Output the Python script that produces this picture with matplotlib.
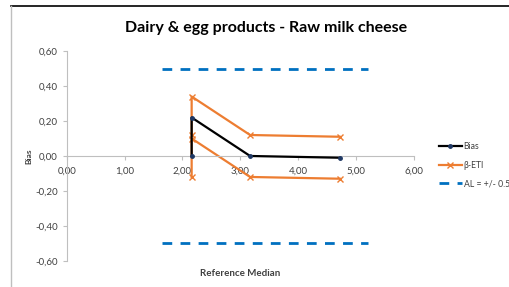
import matplotlib
matplotlib.use("Agg")
import matplotlib.pyplot as plt
from matplotlib.lines import Line2D

# data
ref_median = [2.16, 2.16, 3.17, 4.72]
bias = [0.00, 0.22, 0.00, -0.01]
eti_upper = [0.12, 0.34, 0.12, 0.11]
eti_lower = [-0.12, 0.10, -0.12, -0.13]
al_x = [1.65, 5.20]
al_limit = 0.5

xticks = [0, 1, 2, 3, 4, 5, 6]
yticks = [-0.6, -0.4, -0.2, 0.0, 0.2, 0.4, 0.6]

plt.rcParams['font.family'] = ['Lato', 'DejaVu Sans']

fig = plt.figure(figsize=(5.09, 2.87), dpi=100)
ax = fig.add_axes([0.131, 0.091, 0.682, 0.731])

orange = '#ED7D31'
blue = '#0070C0'

ax.plot(ref_median, eti_upper, color=orange, lw=1.6, marker='x', ms=5, mew=1.0, zorder=2, label='β-ETI')
ax.plot(ref_median, eti_lower, color=orange, lw=1.6, marker='x', ms=5, mew=1.0, zorder=2)
ax.plot(ref_median, bias, color='black', lw=1.6, marker='o', ms=2.5, mfc='#1F3864', mec='#1F3864', zorder=3, label='Bias')
ax.plot(al_x, [al_limit, al_limit], color=blue, lw=2, ls=(0, (3.5, 3)), zorder=1, label='AL = +/- 0.5')
ax.plot(al_x, [-al_limit, -al_limit], color=blue, lw=2, ls=(0, (3.5, 3)), zorder=1)

ax.set_xlim(0, 6)
ax.set_ylim(-0.6, 0.6)
ax.set_xticks(xticks)
ax.set_yticks(yticks)
ax.set_xticklabels([('%.2f' % v).replace('.', ',') for v in xticks])
ax.set_yticklabels([('%.2f' % v).replace('.', ',') for v in yticks])

ax.spines['top'].set_visible(False)
ax.spines['right'].set_visible(False)
ax.spines['bottom'].set_position(('data', 0))
ax.spines['bottom'].set_color('#BFBFBF')
ax.spines['left'].set_color('#BFBFBF')
ax.tick_params(axis='both', colors='#BFBFBF', labelcolor='#404040', labelsize=7, length=3)
ax.tick_params(axis='x', pad=5)

ax.set_xlabel('Reference Median', fontsize=7, fontweight='bold', color='#404040')
ax.xaxis.set_label_coords(0.5, -0.04)
ax.set_ylabel('Bias', fontsize=6, fontweight='bold', color='#404040')
ax.yaxis.set_label_coords(-0.1, 0.5)

fig.text(0.523, 0.902, 'Dairy & egg products - Raw milk cheese', ha='center', va='center',
         fontsize=11.5, fontweight='bold', color='black')

handles, labels = ax.get_legend_handles_labels()
order = [1, 0, 2]
leg = fig.legend([handles[i] for i in order], [labels[i] for i in order],
                 loc='upper left', bbox_to_anchor=(0.855, 0.517), frameon=False,
                 fontsize=6.2, handlelength=2.7, labelspacing=1.1, handletextpad=0.2,
                 borderaxespad=0)
for t in leg.get_texts():
    t.set_color('#404040')

# chart area frame
fig.add_artist(Line2D([11 / 509, 1], [1 - 6 / 287, 1 - 6 / 287], color='black', lw=1.2))
fig.add_artist(Line2D([11 / 509, 11 / 509], [0, 1 - 6 / 287], color='#BFBFBF', lw=1.0))

fig.savefig('out.png', dpi=100)
